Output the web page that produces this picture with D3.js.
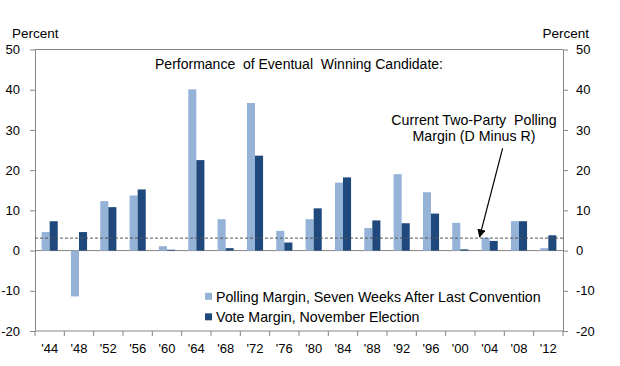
<!DOCTYPE html>
<html>
    <head>
        <meta charset="utf-8">
        <script src="https://d3js.org/d3.v7.min.js"></script>
        <style>
            body { margin: 0; background: #fff; }
            svg text { font-family: Arial, "Liberation Sans", sans-serif; fill: #000; white-space: pre; }
            .axis path, .axis line { stroke: #868686; }
            .axis text { font-size: 13px; }
        </style>
    </head>
    <body>
        <svg width="620" height="366"></svg>
        <script>
            // election years and margins (percentage points)
            var years = ["'44", "'48", "'52", "'56", "'60", "'64", "'68", "'72", "'76", "'80",
                         "'84", "'88", "'92", "'96", "'00", "'04", "'08", "'12"];
            var pollingMargin = [4.6, -11.4, 12.3, 13.7, 1.1, 40.1, 7.8, 36.7, 4.9, 7.8,
                                 16.9, 5.6, 19.0, 14.5, 6.9, 3.2, 7.3, 0.6];
            var voteMargin = [7.3, 4.6, 10.8, 15.2, 0.2, 22.5, 0.6, 23.6, 2.0, 10.5,
                              18.2, 7.5, 6.8, 9.2, 0.3, 2.4, 7.3, 3.8];
            var currentPolling = 3.1;
            var yTicks = [-20, -10, 0, 10, 20, 30, 40, 50];
            var seriesNames = ["Polling Margin, Seven Weeks After Last Convention",
                               "Vote Margin, November Election"];
            var colors = ["#95b3d7", "#1f497d"];

            var margin = {top: 49.5, right: 57, bottom: 35, left: 35};
            var width = 620 - margin.left - margin.right;
            var height = 366 - margin.top - margin.bottom;

            var svg = d3.select("svg")
                .append("g")
                .attr("transform", "translate(" + margin.left + "," + margin.top + ")");

            var data = years.map(function(y, i) {
                return {year: y, values: [pollingMargin[i], voteMargin[i]]};
            });

            var x0 = d3.scaleBand().domain(years).range([0, width])
                .paddingInner(0.45).paddingOuter(0.225);
            var x1 = d3.scaleBand().domain([0, 1]).range([0, x0.bandwidth()]);
            var y = d3.scaleLinear().domain([-20, 50]).range([height, 0]);
            var fmt = function(d) { return String(d); };

            // frame top line
            svg.append("line")
                .attr("x1", 0).attr("x2", width).attr("y1", 0).attr("y2", 0)
                .attr("stroke", "#868686");

            // left axis
            svg.append("g").attr("class", "axis")
                .call(d3.axisLeft(y).tickValues(yTicks).tickFormat(fmt)
                    .tickSize(5).tickPadding(10).tickSizeOuter(0));
            // right axis
            svg.append("g").attr("class", "axis")
                .attr("transform", "translate(" + width + ",0)")
                .call(d3.axisRight(y).tickValues(yTicks).tickFormat(fmt)
                    .tickSize(5).tickPadding(8).tickSizeOuter(0));

            // bottom axis: ticks at band boundaries
            var xAxis = svg.append("g").attr("class", "axis")
                .attr("transform", "translate(0," + height + ")");
            xAxis.append("line").attr("x1", 0).attr("x2", width).attr("stroke", "#868686");
            xAxis.selectAll(".tk")
                .data(d3.range(years.length + 1))
              .enter().append("line")
                .attr("x1", function(i) { return i * x0.step(); })
                .attr("x2", function(i) { return i * x0.step(); })
                .attr("y1", 0).attr("y2", 5)
                .attr("stroke", "#868686");
            xAxis.selectAll("text")
                .data(years)
              .enter().append("text")
                .attr("x", function(d) { return x0(d) + x0.bandwidth() / 2; })
                .attr("y", 22)
                .attr("text-anchor", "middle")
                .style("font-size", "13px")
                .text(function(d) { return d; });

            // zero line
            svg.append("line")
                .attr("x1", 0).attr("x2", width).attr("y1", y(0)).attr("y2", y(0))
                .attr("stroke", "#868686");

            // bars
            var groups = svg.selectAll(".grp")
                .data(data)
              .enter().append("g")
                .attr("transform", function(d) { return "translate(" + x0(d.year) + ",0)"; });
            groups.selectAll("rect")
                .data(function(d) { return d.values; })
              .enter().append("rect")
                .attr("x", function(v, i) { return x1(i); })
                .attr("width", x1.bandwidth())
                .attr("y", function(v) { return y(Math.max(0, v)); })
                .attr("height", function(v) { return Math.abs(y(v) - y(0)); })
                .attr("fill", function(v, i) { return colors[i]; });

            // current polling margin
            svg.append("line")
                .attr("x1", 0).attr("x2", width)
                .attr("y1", y(currentPolling)).attr("y2", y(currentPolling))
                .attr("stroke", "#555").attr("stroke-width", 1)
                .attr("stroke-dasharray", "3,2");

            // arrow annotation
            svg.append("defs").append("marker")
                .attr("id", "arrow").attr("viewBox", "0 0 10 10")
                .attr("refX", 9).attr("refY", 5)
                .attr("markerWidth", 7).attr("markerHeight", 7)
                .attr("orient", "auto")
              .append("path").attr("d", "M0,0 L10,5 L0,10 z").attr("fill", "#000");
            var tipX = x0("'04") - 2;
            svg.append("line")
                .attr("x1", tipX + 23).attr("y1", y(25.4))
                .attr("x2", tipX).attr("y2", y(currentPolling + 0.3))
                .attr("stroke", "#000").attr("stroke-width", 1.2)
                .attr("marker-end", "url(#arrow)");
            var note = svg.append("text")
                .attr("text-anchor", "middle")
                .style("font-size", "14.2px");
            note.append("tspan").attr("x", 439).attr("y", y(31.2)).text("Current Two-Party  Polling");
            note.append("tspan").attr("x", 439).attr("y", y(27.2)).text("Margin (D Minus R)");

            // title
            svg.append("text")
                .attr("x", 264).attr("y", 19)
                .attr("text-anchor", "middle")
                .style("font-size", "14px")
                .text("Performance  of Eventual  Winning Candidate:");

            // axis titles
            d3.select("svg").append("text")
                .attr("x", 12).attr("y", 38).style("font-size", "13.5px").text("Percent");
            d3.select("svg").append("text")
                .attr("x", 589).attr("y", 38).attr("text-anchor", "end")
                .style("font-size", "13.5px").text("Percent");

            // legend
            var legend = svg.selectAll(".leg")
                .data(seriesNames)
              .enter().append("g")
                .attr("transform", function(d, i) {
                    return "translate(170," + (y(-11.5) + i * 20.5) + ")";
                });
            legend.append("rect")
                .attr("x", 0).attr("y", -4).attr("width", 7).attr("height", 7)
                .attr("fill", function(d, i) { return colors[i]; });
            legend.append("text")
                .attr("x", 11).attr("y", 5)
                .style("font-size", "14.2px")
                .text(function(d) { return d; });
        </script>
    </body>
</html>
